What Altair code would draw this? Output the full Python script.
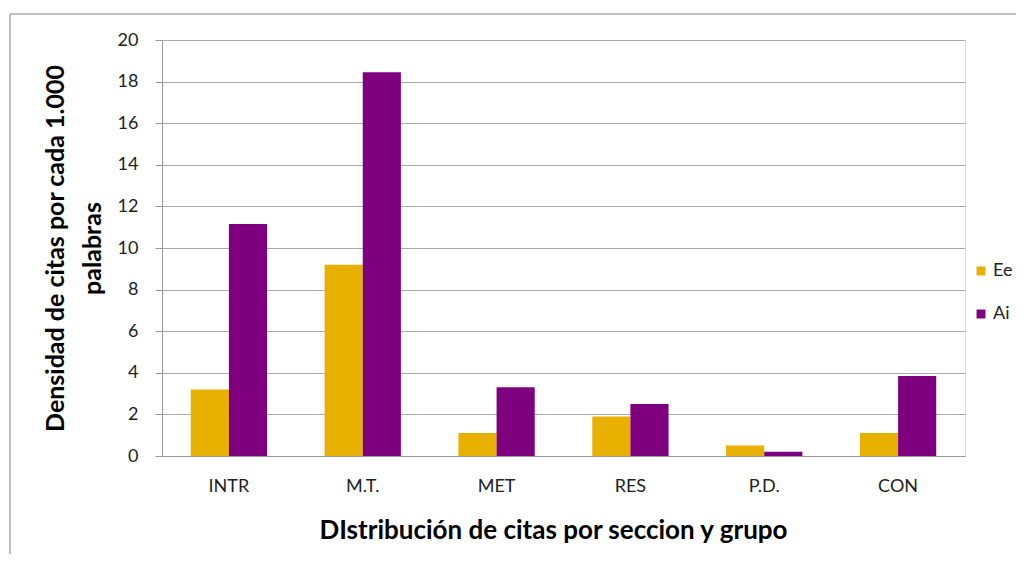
import altair as alt
import pandas as pd

categories = ["INTR", "M.T.", "MET", "RES", "P.D.", "CON"]
ee_values = [3.2, 9.2, 1.1, 1.9, 0.5, 1.1]
ai_values = [11.15, 18.45, 3.3, 2.5, 0.2, 3.85]
series = ["Ee", "Ai"]
y_ticks = [0, 2, 4, 6, 8, 10, 12, 14, 16, 18, 20]

rows = []
for c, e, a in zip(categories, ee_values, ai_values):
    rows.append({"cat": c, "grupo": "Ee", "val": e})
    rows.append({"cat": c, "grupo": "Ai", "val": a})
df = pd.DataFrame(rows)

FONT = "Lato"
W, H = 803, 416

bars = alt.Chart(df).mark_bar().encode(
    x=alt.X("cat:N", sort=categories,
            scale=alt.Scale(paddingInner=0.43, paddingOuter=0.215),
            axis=alt.Axis(title="DIstribución de citas por seccion  y grupo",
                          labelAngle=0, labelFontSize=18, labelColor="#222",
                          labelFont=FONT, labelPadding=21,
                          titleFont=FONT, titleFontSize=26, titleFontWeight="bold",
                          titleColor="#000", titlePadding=22, titleX=391,
                          ticks=False, domainColor="#999", domainWidth=1.2,
                          grid=False)),
    xOffset=alt.XOffset("grupo:N", sort=series),
    y=alt.Y("val:Q", scale=alt.Scale(domain=[0, 20], nice=False),
            axis=alt.Axis(title=["Densidad de citas por cada 1.000", "palabras"],
                          values=y_ticks, labelFontSize=18, labelColor="#222",
                          labelFont=FONT, labelPadding=17,
                          tickSize=7, tickColor="#999",
                          domainColor="#999", gridColor="#aaa", gridWidth=1,
                          titleFont=FONT, titleFontSize=25, titleFontWeight="bold",
                          titleColor="#000", titleLineHeight=37, titlePadding=12)),
    color=alt.Color("grupo:N", sort=series,
                    scale=alt.Scale(domain=series, range=["#E8B000", "#7F007F"]),
                    legend=alt.Legend(title=None, orient="none", legendX=810, legendY=222,
                                      symbolType="square", symbolSize=80,
                                      symbolStrokeWidth=0,
                                      labelFontSize=18, labelFont=FONT, labelColor="#222",
                                      rowPadding=25, labelOffset=3)),
)

frame_top = alt.Chart(pd.DataFrame({"a": [0]})).mark_rule(color="#aaa", strokeWidth=1.5).encode(
    x=alt.value(-152), x2=alt.value(W + 70), y=alt.value(-26))
frame_left = alt.Chart(pd.DataFrame({"a": [0]})).mark_rule(color="#aaa", strokeWidth=1.5).encode(
    x=alt.value(-152), y=alt.value(-26), y2=alt.value(H + 120))

chart = alt.layer(frame_top, frame_left, bars).properties(
    width=W, height=H,
    autosize=alt.AutoSizeParams(type="none"),
    padding={"left": 154, "top": 32, "right": 51, "bottom": 98},
).configure_view(stroke=None).configure(background="white")

chart.save("out.html", embed_options={"renderer": "svg", "actions": False})
